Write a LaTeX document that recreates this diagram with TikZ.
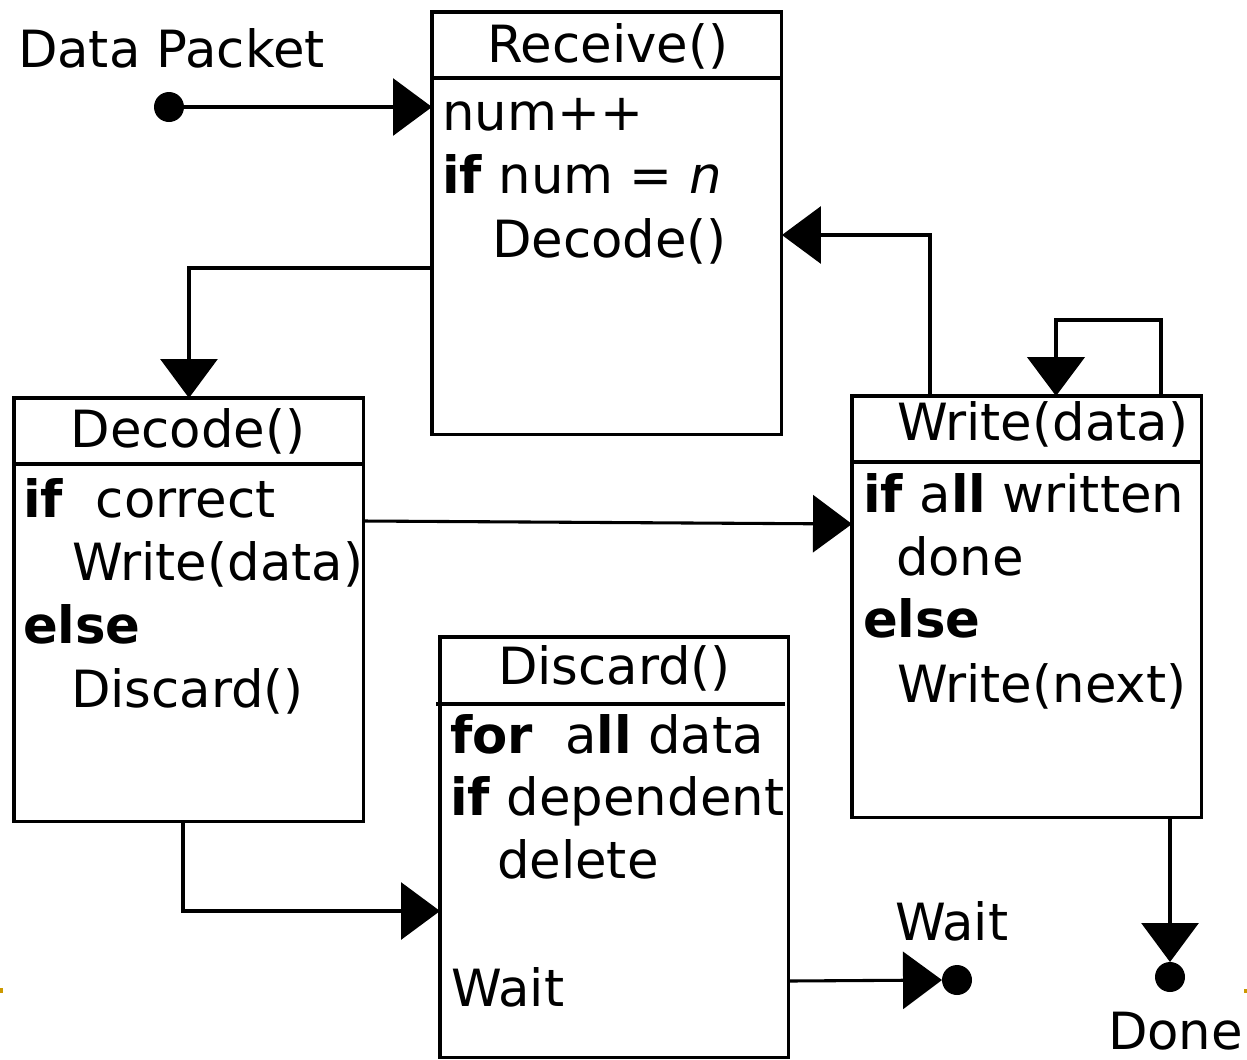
\documentclass[tikz,border=0pt]{standalone}
\usepackage{fontspec}
\setmainfont{DejaVu Sans}
\usetikzlibrary{arrows.meta,calc}
\definecolor{tickgold}{RGB}{204,153,0}
\begin{document}
\begin{tikzpicture}[x=0.02cm,y=-0.02cm,
  every node/.style={font=\fontsize{29.2}{35}\selectfont, inner sep=0pt, outer sep=0pt},
  box/.style={draw, line width=1.75pt, anchor=north west, inner sep=0pt},
  txt/.style={anchor=base west},
  ttl/.style={anchor=base},
  rule/.style={line width=1.75pt},
  wire/.style={line width=1.75pt, -{Triangle[length=0.78cm,width=1.14cm]}},
  dot/.style={circle, fill, minimum size=0.6cm, inner sep=0pt}
]
\useasboundingbox (0,0) rectangle (1247,1059);

% small gold ticks on the page edges
\fill[tickgold] (0,988) rectangle (3,993);
\fill[tickgold] (1244,989) rectangle (1247,993);

% class boxes
\node[box, minimum width=7cm, minimum height=8.46cm] (recv) at (432,12) {};
\node[box, minimum width=7cm, minimum height=8.48cm] (dec)  at (14,398) {};
\node[box, minimum width=7cm, minimum height=8.44cm] (wr)   at (852,396) {};
\node[box, minimum width=6.98cm, minimum height=8.42cm] (disc) at (440,637) {};

% header rules
\draw[rule] (recv.west |- 0,78) -- (recv.east |- 0,78);
\draw[rule] (dec.west |- 0,464) -- (dec.east |- 0,464);
\draw[rule] (wr.west |- 0,462) -- (wr.east |- 0,462);
\draw[rule] ($(disc.west |- 0,704)+(-4,0)$) -- ($(disc.east |- 0,704)+(-4,0)$);

% Receive()
\node[ttl] (recvT) at (608,62) {Receive()};
\node[txt] (recv1) at (442,130) {num++};
\node[txt] (recv2) at (442,193) {\textbf{if} num = \textit{n}};
\node[txt] (recv3) at (492,257) {Decode()};

% Decode()
\node[ttl] (decT) at (188,447) {Decode()};
\node[txt] (dec1) at (23,517) {\textbf{if}\ \ correct};
\node[txt] (dec2) at (72,580) {Write(data)};
\node[txt] (dec3) at (23,643) {\textbf{else}};
\node[txt] (dec4) at (71,707) {Discard()};

% Write(data)
\node[txt] (wrT) at (897,440) {Write(data)};
\node[txt] (wr1) at (863,512) {\textbf{if} a\textbf{ll} written};
\node[txt] (wr2) at (896,575) {done};
\node[txt] (wr3) at (863,637) {\textbf{else}};
\node[txt] (wr4) at (897,702) {Write(next)};

% Discard()
\node[txt] (discT) at (498,684) {Discard()};
\node[txt] (disc1) at (450,753) {\textbf{for}\ \ a\textbf{ll} data};
\node[txt] (disc2) at (450,815) {\textbf{if} dependent};
\node[txt] (disc3) at (497,878) {delete};
\node[txt] (disc4) at (451,1006) {Wait};

% free labels and end points
\node[txt] (dpT) at (18,67) {Data Packet};
\node[dot] (dp) at (169,107) {};
\node[txt] (waitT) at (895,940) {Wait};
\node[dot] (waitD) at (957,980) {};
\node[dot] (doneD) at (1170,977) {};
\node[txt] (doneT) at (1108,1049) {Done};

% connectors
\draw[wire] (dp.center) -- (recv.west |- dp);
\draw[wire] (recv.west |- 0,268) -| (dec.north);
\draw[wire] (wr.north -| 930,0) |- (recv.east |- 0,235);
\draw[wire, line width=2.8pt] (wr.north -| 1161,0) |- (1056,320) -- (wr.north -| 1056,0);
\draw[wire] (dec.east |- 0,521) -- (wr.west |- 0,524);
\draw[wire] (dec.south -| 183,0) |- (disc.west |- 0,911);
\draw[wire] (disc.east |- 0,981) -- (waitD.west);
\draw[wire] (wr.south -| doneD) -- (doneD.north);
\end{tikzpicture}
\end{document}
